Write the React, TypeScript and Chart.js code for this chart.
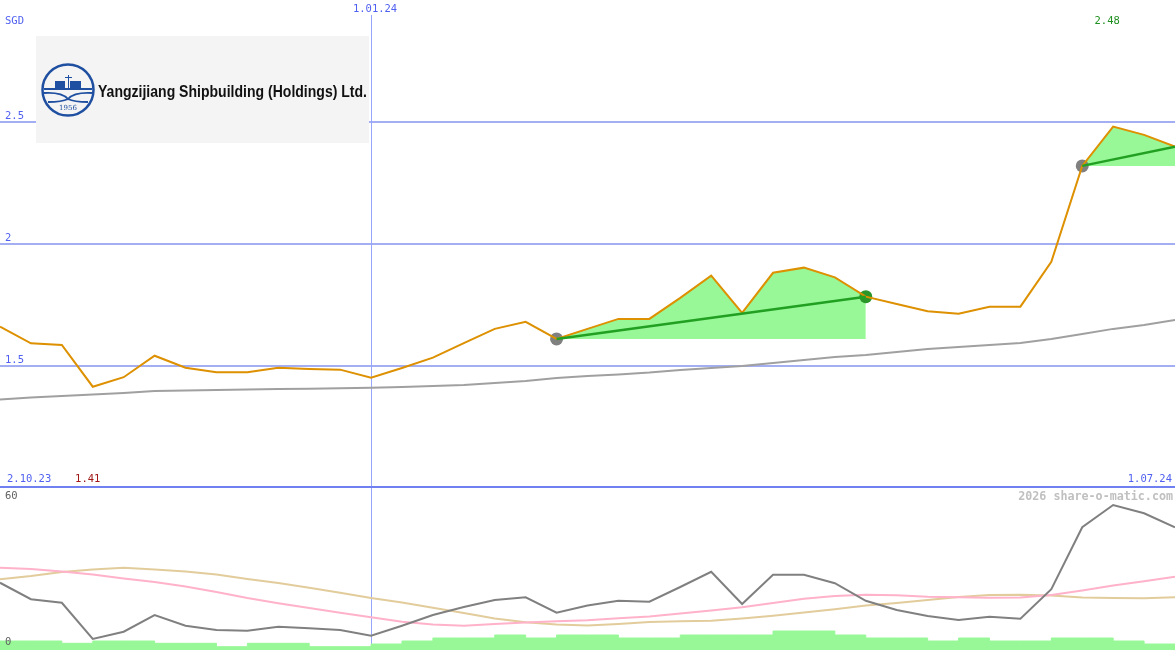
import React, { useEffect, useRef } from "react";
import { Chart, registerables } from "chart.js";

Chart.register(...registerables);

// ---- data (one point per period, left to right) ----
const price = [
  1.657, 1.589, 1.582, 1.411, 1.45, 1.538, 1.489, 1.47, 1.47, 1.489, 1.484, 1.481, 1.448,
  1.488, 1.53, 1.59, 1.648, 1.677, 1.607, 1.648, 1.689, 1.689, 1.775, 1.866, 1.714, 1.878,
  1.899, 1.859, 1.78, 1.75, 1.72, 1.71, 1.739, 1.739, 1.923, 2.316, 2.477, 2.443, 2.395,
];
const movingAvg = [
  1.359, 1.367, 1.373, 1.379, 1.385, 1.393, 1.395, 1.398, 1.4, 1.402, 1.403, 1.405, 1.407,
  1.41, 1.414, 1.418, 1.426, 1.434, 1.447, 1.455, 1.461, 1.469, 1.48, 1.488, 1.496, 1.508,
  1.52, 1.533, 1.541, 1.553, 1.566, 1.574, 1.582, 1.59, 1.607, 1.627, 1.648, 1.664, 1.684,
];
const oscMain = [
  24.9, 18.3, 16.9, 2.4, 5.3, 12.0, 7.7, 6.0, 5.7, 7.3, 6.7, 6.0, 3.7, 7.7, 12.0, 15.2, 18.0,
  19.1, 12.9, 15.8, 17.7, 17.3, 23.2, 29.3, 16.4, 28.1, 28.1, 24.7, 17.7, 14.0, 11.6, 10.0,
  11.3, 10.5, 22.3, 47.1, 56.0, 52.7, 47.1,
];
const oscPink = [
  30.9, 30.4, 29.4, 28.2, 26.6, 25.2, 23.4, 21.2, 18.8, 16.7, 14.8, 12.9, 11.1, 9.3, 8.2, 7.7,
  8.4, 9.0, 9.5, 9.9, 10.7, 11.4, 12.6, 13.8, 15.1, 16.8, 18.5, 19.6, 20.1, 19.9, 19.3, 19.1,
  18.9, 19.0, 20.0, 21.8, 23.8, 25.5, 27.3,
];
const oscTan = [
  26.3, 27.6, 29.2, 30.2, 30.9, 30.2, 29.4, 28.2, 26.4, 24.8, 22.9, 20.9, 18.8, 17.0, 14.9,
  12.8, 10.6, 9.1, 8.2, 7.8, 8.4, 9.2, 9.5, 9.7, 10.6, 11.7, 13.0, 14.3, 15.8, 16.8, 18.0, 19.2,
  20.0, 20.1, 19.8, 19.0, 18.8, 18.7, 19.1,
];
const volume = [
  9, 9, 6.7, 9, 9, 6.7, 6.7, 3.3, 6.7, 6.7, 3.3, 3.3, 6, 9, 12, 12, 15, 12, 15, 15, 12, 12, 15,
  15, 15, 19, 19, 15, 12, 12, 9, 12, 9, 9, 12, 12, 9, 6,
];
const trendStart = [18, 35];
const trendEnd = [28, 38];
const trendClosed = [true, false];
const priceGridValues = [2.5, 2, 1.5];
const priceGridLabels = ["2.5", "2", "1.5"];
const dateTickLabels = ["2.10.23", "1.01.24", "1.07.24"];
const dateTickIndex = [0, 12, 38];
const currency = "SGD";
const oscTickValues = [60, 0];
const companyName = "Yangzijiang Shipbuilding (Holdings) Ltd.";
const watermark = "2026 share-o-matic.com";

// ---- styling ----
const W = 1175;
const TOP_H = 489;
const BOT_H = 161;
const LAST = price.length - 1;
const BLUE_TXT = "#5060F0";
const GRID = "#A4AEF2";
const VLINE = "#96A6FA";
const BORDER = "#7080F0";
const MONO = '"DejaVu Sans Mono", "Liberation Mono", monospace';
const FILL_GREEN = "#98F898";

const pts = (arr: number[]) => arr.map((v, i) => ({ x: i, y: v }));

function drawLogo(ctx: CanvasRenderingContext2D) {
  ctx.save();
  ctx.fillStyle = "#F4F4F4";
  ctx.fillRect(36, 36, 333, 107);
  const cx = 68, cy = 90, r = 25.5;
  const blue = "#1F4FA0";
  ctx.strokeStyle = blue;
  ctx.fillStyle = blue;
  ctx.lineWidth = 2.5;
  ctx.beginPath();
  ctx.arc(cx, cy, r, 0, Math.PI * 2);
  ctx.stroke();
  // containers
  ctx.fillRect(cx - 13, cy - 9, 10, 7);
  ctx.fillRect(cx + 2, cy - 9, 11, 7);
  // mast
  ctx.lineWidth = 1;
  ctx.beginPath();
  ctx.moveTo(cx + 0.5, cy - 15);
  ctx.lineTo(cx + 0.5, cy - 2);
  ctx.moveTo(cx - 3, cy - 12.5);
  ctx.lineTo(cx + 4, cy - 12.5);
  ctx.stroke();
  // deck
  ctx.lineWidth = 2;
  ctx.beginPath();
  ctx.moveTo(cx - 24, cy - 1);
  ctx.lineTo(cx + 24, cy - 1);
  ctx.stroke();
  // hull curves
  ctx.lineWidth = 1.8;
  ctx.beginPath();
  ctx.moveTo(cx - 24, cy + 3);
  ctx.quadraticCurveTo(cx - 6, cy + 2, cx, cy + 9);
  ctx.quadraticCurveTo(cx + 6, cy + 2, cx + 24, cy + 3);
  ctx.stroke();
  ctx.beginPath();
  ctx.moveTo(cx - 20, cy + 12);
  ctx.quadraticCurveTo(cx - 6, cy + 12, cx, cy + 9);
  ctx.quadraticCurveTo(cx + 6, cy + 12, cx + 20, cy + 12);
  ctx.stroke();
  ctx.font = '7px "DejaVu Serif", serif';
  ctx.textAlign = "center";
  ctx.textBaseline = "middle";
  ctx.fillText("1956", cx, cy + 18);
  // company name, fitted to the box
  ctx.fillStyle = "#111111";
  ctx.font = 'bold 17px "Liberation Sans", Arial, sans-serif';
  ctx.textAlign = "left";
  ctx.textBaseline = "alphabetic";
  const tw = ctx.measureText(companyName).width;
  const target = 269;
  ctx.translate(98, 97);
  ctx.scale(target / tw, 1);
  ctx.fillText(companyName, 0, 0);
  ctx.restore();
}

const topPlugin = {
  id: "topDecor",
  beforeDatasetsDraw(chart: any) {
    const ctx: CanvasRenderingContext2D = chart.ctx;
    const x = chart.scales.x;
    const y = chart.scales.y;
    ctx.save();
    ctx.fillStyle = GRID;
    priceGridValues.forEach((v) => {
      const py = Math.round(y.getPixelForValue(v));
      ctx.fillRect(0, py, W, 2);
    });
    drawLogo(ctx);
    const vx = Math.round(x.getPixelForValue(dateTickIndex[1]));
    ctx.fillStyle = VLINE;
    ctx.fillRect(vx, 15, 1, TOP_H - 15);
    ctx.fillStyle = BORDER;
    const by = Math.round(y.getPixelForValue(1.0));
    ctx.fillRect(0, by - 1, W, 2);
    ctx.restore();
  },
  afterDatasetsDraw(chart: any) {
    const ctx: CanvasRenderingContext2D = chart.ctx;
    const x = chart.scales.x;
    const y = chart.scales.y;
    ctx.save();
    ctx.font = `10.5px ${MONO}`;
    ctx.textBaseline = "middle";
    ctx.fillStyle = BLUE_TXT;
    ctx.textAlign = "left";
    ctx.fillText(currency, 5, 21);
    priceGridValues.forEach((v, i) => {
      ctx.fillText(priceGridLabels[i], 5, y.getPixelForValue(v) - 4.5);
    });
    const by = y.getPixelForValue(1.0) - 8;
    ctx.fillText(dateTickLabels[0], x.getPixelForValue(dateTickIndex[0]) + 7, by);
    ctx.textAlign = "right";
    ctx.fillText(dateTickLabels[2], x.getPixelForValue(dateTickIndex[2]) - 3, by);
    ctx.textAlign = "center";
    ctx.fillText(dateTickLabels[1], x.getPixelForValue(dateTickIndex[1]) + 4, 9);
    // min / max
    const minV = Math.min(...price);
    const maxV = Math.max(...price);
    const minI = price.indexOf(minV);
    const maxI = price.indexOf(maxV);
    ctx.fillStyle = "#A01818";
    ctx.fillText(minV.toFixed(2), x.getPixelForValue(minI) - 5, by);
    ctx.fillStyle = "#209020";
    ctx.fillText(maxV.toFixed(2), x.getPixelForValue(maxI) - 6, 21);
    ctx.restore();
  },
};

const botPlugin = {
  id: "botDecor",
  beforeDatasetsDraw(chart: any) {
    const ctx: CanvasRenderingContext2D = chart.ctx;
    const x = chart.scales.x;
    ctx.save();
    const vx = Math.round(x.getPixelForValue(dateTickIndex[1]));
    ctx.fillStyle = VLINE;
    ctx.fillRect(vx, 0, 1, BOT_H);
    ctx.restore();
  },
  afterDatasetsDraw(chart: any) {
    const ctx: CanvasRenderingContext2D = chart.ctx;
    const yo = chart.scales.yo;
    ctx.save();
    ctx.font = `10.5px ${MONO}`;
    ctx.textBaseline = "middle";
    ctx.textAlign = "left";
    ctx.fillStyle = "#606060";
    ctx.fillText(String(oscTickValues[0]), 5, yo.getPixelForValue(oscTickValues[0]) + 1.5);
    ctx.fillText(String(oscTickValues[1]), 5, yo.getPixelForValue(oscTickValues[1]) - 3);
    ctx.font = `bold 11.7px ${MONO}`;
    ctx.fillStyle = "#C0C0C0";
    ctx.textAlign = "right";
    ctx.fillText(watermark, 1173, 7.5);
    ctx.restore();
  },
};

const baseOptions = {
  animation: false as const,
  responsive: false,
  maintainAspectRatio: false,
  events: [] as any[],
  layout: { padding: 0, autoPadding: false },
  plugins: { legend: { display: false }, tooltip: { enabled: false } },
  elements: { point: { radius: 0 }, line: { tension: 0 } },
};

export default function App() {
  const topRef = useRef<HTMLCanvasElement>(null);
  const botRef = useRef<HTMLCanvasElement>(null);

  useEffect(() => {
    const fills = trendStart.map((a, k) => ({
      data: price.map((v, i) => ({ x: i, y: i >= a && i <= trendEnd[k] ? v : null })),
      borderColor: "rgba(0,0,0,0)",
      borderWidth: 0,
      backgroundColor: FILL_GREEN,
      fill: { value: price[a] },
      pointRadius: 0,
      order: 20,
    }));
    const trends = trendStart.map((a, k) => ({
      data: [
        { x: a, y: price[a] },
        { x: trendEnd[k], y: price[trendEnd[k]] },
      ],
      borderColor: "#22A022",
      borderWidth: 2.5,
      pointRadius: 0,
      fill: false,
      order: 1,
    }));
    const dotData: { x: number; y: number }[] = [];
    const dotColors: string[] = [];
    trendStart.forEach((a, k) => {
      dotData.push({ x: a, y: price[a] });
      dotColors.push("#808080");
      if (trendClosed[k]) {
        dotData.push({ x: trendEnd[k], y: price[trendEnd[k]] });
        dotColors.push("#2A962A");
      }
    });

    const c1 = new Chart(topRef.current as HTMLCanvasElement, {
      type: "line",
      data: {
        datasets: [
          ...fills,
          {
            data: pts(movingAvg),
            borderColor: "#A0A0A0",
            borderWidth: 2,
            pointRadius: 0,
            fill: false,
            order: 10,
          },
          {
            data: dotData,
            showLine: false,
            pointRadius: 6.5,
            pointBackgroundColor: dotColors,
            pointBorderWidth: 0,
            pointBorderColor: "rgba(0,0,0,0)",
            order: 8,
          },
          {
            data: pts(price),
            borderColor: "#DD9000",
            borderWidth: 2,
            pointRadius: 0,
            fill: false,
            order: 3,
          },
          ...trends,
        ] as any,
      },
      options: {
        ...baseOptions,
        scales: {
          x: { type: "linear", min: 0, max: LAST, display: false },
          y: { type: "linear", min: 1.0 - 2 / 244, max: 1.0 + 487 / 244, display: false },
        },
      } as any,
      plugins: [topPlugin],
    });

    const volData = volume.map((v, i) => ({ x: i, y: v }));
    volData.push({ x: volume.length, y: volume[volume.length - 1] });

    const c2 = new Chart(botRef.current as HTMLCanvasElement, {
      type: "line",
      data: {
        datasets: [
          {
            data: volData,
            yAxisID: "yv",
            stepped: "before",
            borderColor: FILL_GREEN,
            borderWidth: 1,
            backgroundColor: FILL_GREEN,
            fill: "origin",
            pointRadius: 0,
            order: 20,
          },
          {
            data: pts(oscTan),
            yAxisID: "yo",
            borderColor: "#E2CC9C",
            borderWidth: 2,
            pointRadius: 0,
            fill: false,
            order: 5,
          },
          {
            data: pts(oscPink),
            yAxisID: "yo",
            borderColor: "#FFB2CA",
            borderWidth: 2,
            pointRadius: 0,
            fill: false,
            order: 4,
          },
          {
            data: pts(oscMain),
            yAxisID: "yo",
            borderColor: "#808080",
            borderWidth: 2,
            pointRadius: 0,
            fill: false,
            order: 3,
          },
        ] as any,
      },
      options: {
        ...baseOptions,
        scales: {
          x: { type: "linear", min: 0, max: LAST, display: false },
          yo: { type: "linear", min: -2, max: 62.4, display: false },
          yv: { type: "linear", min: 0, max: BOT_H, display: false },
        },
      } as any,
      plugins: [botPlugin],
    });

    return () => {
      c1.destroy();
      c2.destroy();
    };
  }, []);

  return (
    <div
      style={{
        position: "fixed",
        left: 0,
        top: 0,
        width: W,
        height: TOP_H + BOT_H,
        background: "#FFFFFF",
        overflow: "hidden",
      }}
    >
      <canvas
        ref={topRef}
        width={W}
        height={TOP_H}
        style={{ position: "absolute", left: 0, top: 0, width: W, height: TOP_H }}
      />
      <canvas
        ref={botRef}
        width={W}
        height={BOT_H}
        style={{ position: "absolute", left: 0, top: TOP_H, width: W, height: BOT_H }}
      />
    </div>
  );
}
